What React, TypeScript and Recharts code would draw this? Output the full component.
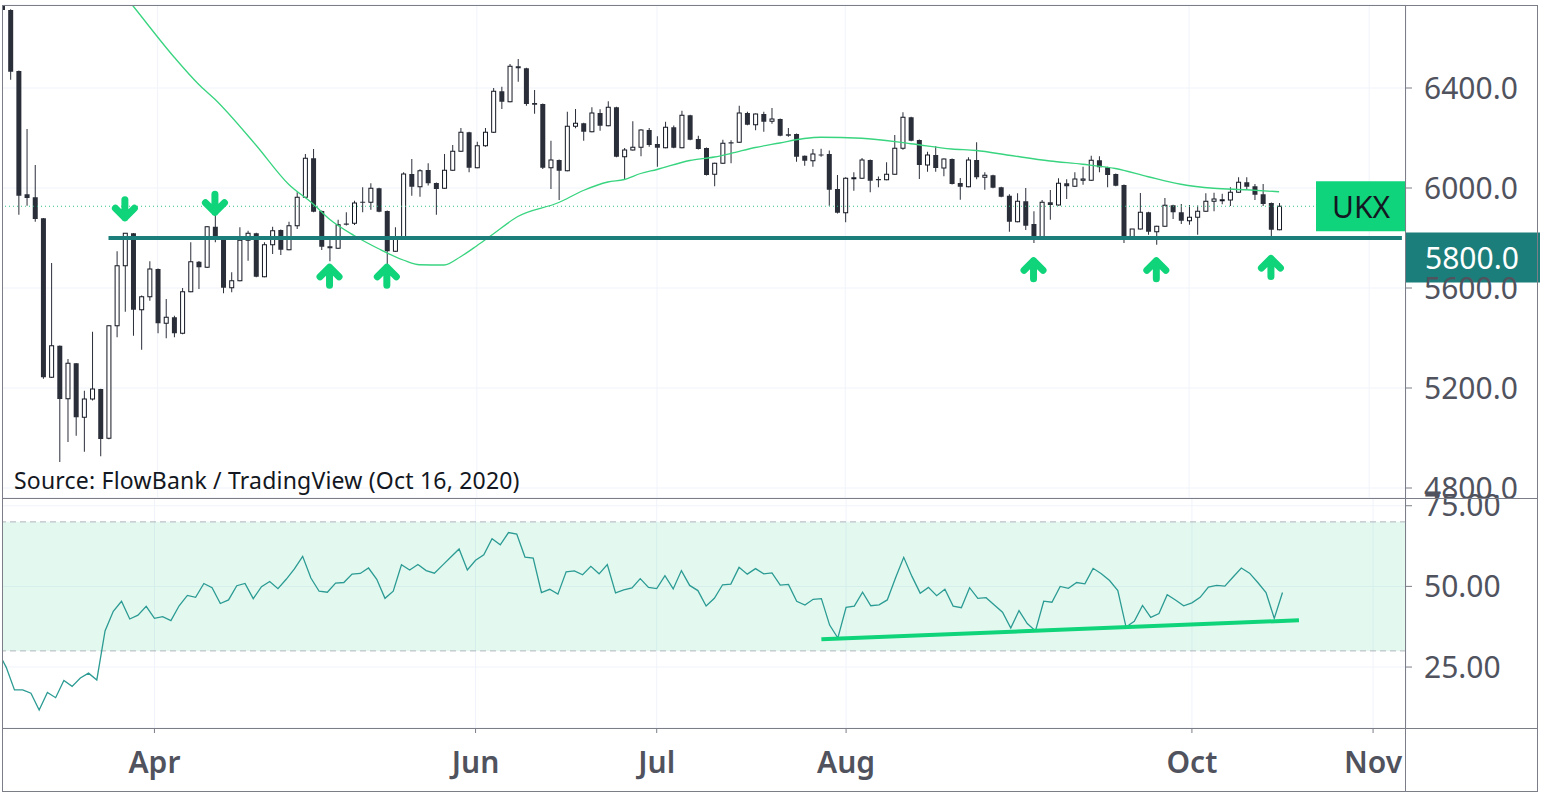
import React from 'react';
import {
  ComposedChart,
  Bar,
  Line,
  XAxis,
  YAxis,
  CartesianGrid,
  ReferenceLine,
  ReferenceArea,
  ReferenceDot,
} from 'recharts';

// ---------- trading days (categories) ----------
const marDays = [5, 6, 9, 10, 11, 12, 13, 16, 17, 18, 19, 20, 23, 24, 25, 26, 27, 30, 31];
const aprDays = [1, 2, 3, 6, 7, 8, 9, 14, 15, 16, 17, 20, 21, 22, 23, 24, 27, 28, 29, 30];
const mayDays = [1, 4, 5, 6, 7, 11, 12, 13, 14, 15, 18, 19, 20, 21, 22, 26, 27, 28, 29];
const junDays = [1, 2, 3, 4, 5, 8, 9, 10, 11, 12, 15, 16, 17, 18, 19, 22, 23, 24, 25, 26, 29, 30];
const julDays = [1, 2, 3, 6, 7, 8, 9, 10, 13, 14, 15, 16, 17, 20, 21, 22, 23, 24, 27, 28, 29, 30, 31];
const augDays = [3, 4, 5, 6, 7, 10, 11, 12, 13, 14, 17, 18, 19, 20, 21, 24, 25, 26, 27, 28];
const sepDays = [1, 2, 3, 4, 7, 8, 9, 10, 11, 14, 15, 16, 17, 18, 21, 22, 23, 24, 25, 28, 29, 30];
const octDays = [1, 2, 5, 6, 7, 8, 9, 12, 13, 14, 15, 16, 19, 20, 21, 22, 23, 26, 27, 28, 29, 30];
const novDays = [2, 3, 4, 5, 6];

const monthDays: [number, number[]][] = [
  [3, marDays], [4, aprDays], [5, mayDays], [6, junDays], [7, julDays],
  [8, augDays], [9, sepDays], [10, octDays], [11, novDays],
];
const pad = (n: number) => (n < 10 ? '0' + n : '' + n);
const dates: string[] = monthDays.flatMap(([m, ds]) => ds.map((d) => `2020-${pad(m)}-${pad(d)}`));

// ---------- UKX daily candles (Mar 5 - Oct 16, 2020) ----------
const opens = [
  6815, 6712, 6468, 5975, 5963, 5879, 5243, 5369, 5157, 5299, 5083, 5156, 5196, 4999, 5449, 5689, 5819, 5513, 5565,
  5676, 5459, 5483, 5419, 5585, 5705, 5683, 5845, 5796, 5601, 5629, 5791, 5819, 5645, 5773, 5832, 5753, 5849, 5963, 6119,
  5908, 5767, 5759, 5858, 5859, 5945, 5943, 5999, 5908, 5747, 5803, 6056, 6005, 6072, 6020, 5999, 6071, 6147, 6223,
  6081, 6169, 6223, 6387, 6345, 6487, 6479, 6340, 6336, 6081, 6112, 6069, 6247, 6259, 6225, 6300, 6249, 6323, 6125, 6152, 6163, 6232,
  6176, 6161, 6243, 6161, 6291, 6196, 6160, 6055, 6099, 6183, 6183, 6300, 6253, 6296, 6267, 6276, 6215, 6216, 6129, 6109, 6134, 6136, 5996,
  5901, 6039, 6039, 6112, 6036, 6033, 6055, 6159, 6283, 6192, 6092, 6132, 6080, 6116, 6020, 6005, 6112, 6043, 6051, 6003,
  5969, 5865, 5947, 5856, 5800, 5943, 5932, 6019, 6007, 6031, 6031, 6111, 6083, 6056, 6012, 5805, 5836, 5903, 5825, 5847, 5931, 5903,
  5869, 5883, 5907, 5947, 5951, 5952, 5983, 6023, 6007, 5975, 5940, 5833,
];
const highs = [
  6830, 6715, 6470, 6236, 6092, 5880, 5700, 5370, 5316, 5300, 5189, 5425, 5197, 5450, 5747, 5820, 5820, 5570, 5707,
  5678, 5556, 5489, 5600, 5783, 5708, 5847, 5900, 5798, 5663, 5843, 5829, 5821, 5783, 5845, 5834, 5865, 5983, 6136, 6156,
  5910, 5799, 5873, 5903, 5949, 6003, 6019, 6001, 5910, 5843, 6063, 6116, 6075, 6099, 6022, 6136, 6172, 6240, 6225,
  6185, 6240, 6400, 6405, 6496, 6516, 6481, 6392, 6338, 6189, 6114, 6305, 6316, 6261, 6323, 6315, 6347, 6325, 6160, 6267, 6235, 6240,
  6207, 6265, 6250, 6309, 6293, 6209, 6162, 6101, 6193, 6191, 6329, 6305, 6298, 6305, 6320, 6278, 6240, 6218, 6130, 6156, 6157, 6150, 6052,
  6043, 6063, 6120, 6114, 6046, 6103, 6212, 6303, 6285, 6194, 6145, 6167, 6118, 6118, 6040, 6123, 6183, 6063, 6053, 6005,
  5975, 5979, 6000, 5907, 5952, 5992, 6039, 6035, 6063, 6085, 6129, 6127, 6085, 6058, 6014, 5836, 5980, 5905, 5849, 5960, 5933, 5936,
  5932, 5930, 5979, 5981, 5977, 6003, 6043, 6043, 6016, 6016, 5942, 5940,
];
const lows = [
  6700, 6433, 5893, 5929, 5865, 5237, 5240, 4904, 4984, 5009, 4945, 5150, 4927, 4995, 5403, 5505, 5409, 5353, 5549,
  5419, 5399, 5403, 5415, 5583, 5596, 5680, 5783, 5579, 5583, 5627, 5709, 5643, 5643, 5736, 5732, 5751, 5836, 5960, 5903,
  5752, 5707, 5757, 5850, 5852, 5903, 5913, 5903, 5665, 5745, 5800, 5969, 5965, 6010, 5893, 5997, 6069, 6145, 6063,
  6079, 6165, 6220, 6316, 6343, 6425, 6329, 6297, 6076, 5996, 5952, 6067, 6239, 6189, 6223, 6229, 6247, 6123, 6036, 6150, 6127, 6165,
  6085, 6159, 6159, 6159, 6191, 6154, 6050, 6007, 6097, 6099, 6181, 6251, 6231, 6225, 6257, 6207, 6205, 6105, 6089, 6085, 6125, 5929, 5898,
  5863, 5989, 6037, 5983, 6003, 6031, 6053, 6153, 6187, 6036, 6065, 6065, 6047, 6014, 5953, 6003, 6035, 5993, 5999, 5963,
  5825, 5863, 5832, 5780, 5798, 5873, 5930, 5956, 6005, 6013, 6029, 6063, 6003, 6007, 5780, 5793, 5834, 5813, 5773, 5845, 5876, 5856,
  5853, 5813, 5905, 5907, 5935, 5928, 5981, 5996, 5952, 5928, 5793, 5831,
];
const closes = [
  6712, 6465, 5969, 5960, 5876, 5243, 5369, 5156, 5299, 5083, 5156, 5196, 4996, 5449, 5689, 5819, 5513, 5565, 5676,
  5459, 5483, 5419, 5585, 5705, 5683, 5845, 5793, 5601, 5629, 5791, 5819, 5645, 5773, 5829, 5753, 5849, 5963, 6119, 5905,
  5765, 5759, 5853, 5853, 5940, 5941, 5999, 5905, 5747, 5803, 6056, 6005, 6069, 6019, 5996, 6071, 6147, 6223, 6081,
  6169, 6223, 6387, 6345, 6487, 6479, 6336, 6333, 6081, 6112, 6069, 6247, 6259, 6225, 6300, 6249, 6323, 6125, 6152, 6163, 6232, 6172,
  6161, 6243, 6161, 6291, 6193, 6156, 6052, 6099, 6179, 6178, 6300, 6253, 6296, 6265, 6276, 6209, 6209, 6125, 6109, 6136, 6132, 5993, 5901,
  6039, 6041, 6112, 6029, 6031, 6055, 6159, 6283, 6189, 6092, 6132, 6080, 6116, 6016, 6005, 6112, 6043, 6051, 6001, 5965,
  5865, 5947, 5849, 5800, 5943, 5932, 6019, 6007, 6036, 6036, 6111, 6083, 6052, 6009, 5805, 5836, 5903, 5825, 5847, 5931, 5903, 5869,
  5883, 5907, 5947, 5956, 5953, 5983, 6023, 6005, 5973, 5936, 5833, 5927,
];

// ---------- RSI(14) ----------
const rsiValues = [
  29.8, 24.9, 17.9, 17.9, 16.9, 11.7, 17.1, 15.5, 20.8, 19.0, 21.6, 23.1, 21.0, 36.2, 42.3, 45.4, 39.9, 41.1, 43.8,
  40.1, 40.6, 39.4, 44.0, 47.2, 46.6, 50.9, 49.6, 44.7, 45.8, 50.2, 50.9, 46.2, 49.9, 51.5, 49.3, 52.2, 55.4, 59.3, 52.6,
  48.5, 48.2, 51.0, 51.2, 53.8, 54.0, 55.7, 52.2, 46.3, 48.5, 56.7, 55.1, 56.8, 54.9, 54.1, 56.6, 59.1, 61.6, 55.1,
  58.1, 59.8, 64.8, 62.9, 66.7, 66.2, 59.1, 58.8, 48.1, 49.1, 47.6, 54.5, 54.8, 53.6, 56.2, 53.9, 56.8, 48.0, 48.9, 49.5, 52.4, 49.7,
  49.3, 53.3, 49.2, 54.9, 50.3, 48.7, 43.9, 46.3, 50.5, 50.7, 55.9, 53.8, 55.5, 53.9, 54.2, 50.4, 50.6, 45.4, 44.2, 46.0, 46.2, 38.0, 34.0,
  43.5, 43.9, 48.2, 44.0, 44.3, 45.8, 52.6, 59.0, 53.1, 47.9, 49.7, 47.1, 49.1, 43.9, 43.4, 49.6, 46.3, 46.5, 44.2, 42.0,
  37.1, 42.5, 38.5, 36.2, 45.4, 45.1, 50.0, 49.4, 51.2, 50.8, 55.6, 53.9, 51.8, 48.7, 37.4, 39.2, 44.1, 40.4, 41.6, 47.4, 45.8, 44.0,
  44.9, 46.6, 49.8, 50.3, 50.1, 52.9, 55.7, 54.1, 51.2, 48.1, 40.1, 48.1,
];

// ---------- moving average ----------
const maDates = [
  '2020-03-24', '2020-03-27', '2020-04-03', '2020-04-08', '2020-04-14', '2020-04-21', '2020-04-27', '2020-04-30',
  '2020-05-04', '2020-05-07', '2020-05-13', '2020-05-18', '2020-05-20', '2020-05-26', '2020-05-28', '2020-06-01',
  '2020-06-03', '2020-06-08', '2020-06-15', '2020-06-18', '2020-06-23', '2020-06-25', '2020-06-29', '2020-07-01',
  '2020-07-07', '2020-07-10', '2020-07-14', '2020-07-17', '2020-07-22', '2020-07-27', '2020-07-29', '2020-08-05',
  '2020-08-13', '2020-08-20', '2020-08-25', '2020-09-01', '2020-09-08', '2020-09-14', '2020-09-18', '2020-09-24',
  '2020-09-30', '2020-10-06', '2020-10-12', '2020-10-16',
];
const maValues = [
  6850, 6728, 6524, 6415, 6355, 6172, 6015, 5936,
  5875, 5810, 5757, 5712, 5693, 5692, 5725, 5769,
  5816, 5886, 5942, 5990, 6024, 6034, 6058, 6074,
  6110, 6124, 6138, 6162, 6180, 6198, 6203, 6199,
  6177, 6156, 6150, 6131, 6108, 6095, 6078, 6045,
  6015, 5999, 5993, 5985,
];

// ---------- annotations ----------
const supportLevel = 5800;
const supportStart = '2020-03-24';
const rsiTrendDates = ['2020-07-29', '2020-10-20'];
const rsiTrendValues = [33.6, 39.5];
const arrowDates = ['2020-03-26', '2020-04-14', '2020-05-04', '2020-05-14', '2020-09-04', '2020-09-25', '2020-10-15'];
const arrowPrices = [5917, 5939, 5647, 5647, 5673, 5673, 5682];
const arrowDirs = ['down', 'down', 'up', 'up', 'up', 'up', 'up'];

const priceTicks = [4800, 5200, 5600, 6000, 6400];
const rsiTicks = [25, 50, 75];
const monthTicks = ['2020-04-01', '2020-06-01', '2020-07-01', '2020-08-03', '2020-10-01', '2020-11-02'];
const monthNames = ['Jan', 'Feb', 'Mar', 'Apr', 'May', 'Jun', 'Jul', 'Aug', 'Sep', 'Oct', 'Nov', 'Dec'];

// ---------- table for the library ----------
const rows = dates.map((date, i) => {
  const has = i < closes.length;
  const mi = maDates.indexOf(date);
  const ti = rsiTrendDates.indexOf(date);
  return {
    date,
    range: has ? [lows[i], highs[i]] : null,
    open: has ? opens[i] : null,
    high: has ? highs[i] : null,
    low: has ? lows[i] : null,
    close: has ? closes[i] : null,
    rsi: has ? rsiValues[i] : null,
    ma: mi >= 0 ? maValues[mi] : null,
    rsiTrend: ti >= 0 ? rsiTrendValues[ti] : null,
  };
});
const lastClose = closes[closes.length - 1];

// ---------- styling ----------
const FONT = '"Noto Sans", "Open Sans", sans-serif';
const TEXT = '#50535e';
const GRID = '#f0f3fa';
const FRAME = '#7b7e87';
const DARK = '#2a2e39';
const GREEN = '#0fd47a';
const TEAL = '#1b7e7a';
const CHART_W = 1560;
const MARGIN_L = 18;
const AXIS_W = 134;

const Candle = (props: any) => {
  const { x, y, width, height, payload } = props;
  if (!payload || payload.open == null || !isFinite(y) || !isFinite(height)) return <g />;
  const { open, close, high, low } = payload;
  const top = Math.min(y, y + height);
  const bot = Math.max(y, y + height);
  const span = high - low || 1;
  const pix = (v: number) => top + ((high - v) / span) * (bot - top);
  const cx = x + width / 2;
  const yo = pix(open);
  const yc = pix(close);
  const bTop = Math.min(yo, yc);
  const bh = Math.max(Math.abs(yo - yc), 1);
  const up = close >= open;
  return (
    <g>
      <line x1={cx} x2={cx} y1={top} y2={bot} stroke={DARK} strokeWidth={1} />
      {up ? (
        <rect x={x + 0.5} y={bTop} width={width - 1} height={bh} fill="#ffffff" stroke="#131722" strokeWidth={1} />
      ) : (
        <rect x={x} y={bTop} width={width} height={bh} fill={DARK} />
      )}
    </g>
  );
};

const Arrow = ({ cx, cy, dir }: { cx: number; cy: number; dir: string }) => {
  const s = dir === 'down' ? 1 : -1;
  const d = `M ${cx} ${cy - 9 * s} L ${cx} ${cy + 9 * s} M ${cx - 9.5} ${cy - 0.5 * s} L ${cx} ${cy + 9 * s} L ${cx + 9.5} ${cy - 0.5 * s}`;
  return <path d={d} stroke={GREEN} strokeWidth={7} strokeLinecap="round" strokeLinejoin="round" fill="none" />;
};

const UkxTag = (props: any) => {
  const vb = props.viewBox || {};
  const right = vb.x + vb.width;
  const cy = vb.y;
  return (
    <g>
      <rect x={right - 90} y={cy - 25} width={90} height={50} fill="#10d47c" />
      <text x={right - 45} y={cy} textAnchor="middle" dominantBaseline="central" fontSize={30} fontFamily={FONT} fill="#131722">
        UKX
      </text>
    </g>
  );
};

const SupportTag = (props: any) => {
  const vb = props.viewBox || {};
  const right = vb.x + vb.width;
  const cy = vb.y;
  return (
    <g>
      <rect x={right} y={cy - 5.5} width={AXIS_W} height={50} fill={TEAL} />
      <text x={right + 19} y={cy + 19.5} dominantBaseline="central" fontSize={30} fontFamily={FONT} fill="#ffffff">
        {supportLevel.toFixed(1)}
      </text>
    </g>
  );
};

const fmtMonth = (d: string) => monthNames[parseInt(d.slice(5, 7), 10) - 1];

const hLine = (left: number, top: number, width: number) => (
  <div style={{ position: 'absolute', left, top, width, height: 1, background: FRAME }} />
);
const vLine = (left: number, top: number, height: number) => (
  <div style={{ position: 'absolute', left, top, width: 1, height, background: FRAME }} />
);

export default function App() {
  return (
    <div
      style={{
        position: 'absolute',
        left: 0,
        top: 0,
        width: 1545,
        height: 798,
        overflow: 'hidden',
        background: '#ffffff',
        fontFamily: FONT,
      }}
    >
      <div style={{ position: 'absolute', left: 3, top: 0, width: 1542, height: 798, overflow: 'hidden' }}>
        {/* price pane */}
        <div style={{ position: 'absolute', left: -23, top: 0 }}>
          <ComposedChart width={CHART_W} height={520} data={rows} margin={{ top: 5, right: 0, bottom: 22, left: MARGIN_L }}>
            <CartesianGrid stroke={GRID} />
            <XAxis dataKey="date" hide ticks={monthTicks} interval={0} />
            <YAxis
              orientation="right"
              domain={[4760, 6732]}
              allowDataOverflow
              ticks={priceTicks}
              interval={0}
              width={AXIS_W}
              tickSize={6}
              tickMargin={12}
              axisLine={false}
              tickLine={{ stroke: FRAME }}
              tick={{ fill: TEXT, fontSize: 30, fontFamily: FONT }}
              tickFormatter={(v: number) => v.toFixed(1)}
            />
            <Line
              dataKey="ma"
              type="monotone"
              stroke="#38d47f"
              strokeWidth={1.3}
              dot={false}
              activeDot={false}
              connectNulls
              isAnimationActive={false}
            />
            <ReferenceLine
              segment={[
                { x: supportStart, y: supportLevel },
                { x: dates[dates.length - 1], y: supportLevel },
              ]}
              stroke={TEAL}
              strokeWidth={4}
            />
            <Bar dataKey="range" shape={Candle} barSize={5} isAnimationActive={false} />
            <ReferenceLine y={lastClose} stroke="#2ec483" strokeDasharray="1 3" label={(p: any) => <UkxTag {...p} />} />
            <ReferenceLine y={supportLevel} stroke="none" strokeOpacity={0} label={(p: any) => <SupportTag {...p} />} />
            {arrowDates.map((d, i) => (
              <ReferenceDot
                key={d}
                x={d}
                y={arrowPrices[i]}
                r={1}
                shape={(p: any) => <Arrow cx={p.cx} cy={p.cy} dir={arrowDirs[i]} />}
              />
            ))}
          </ComposedChart>
        </div>

        {/* RSI pane + time axis */}
        <div style={{ position: 'absolute', left: -23, top: 478 }}>
          <ComposedChart width={CHART_W} height={314} data={rows} margin={{ top: 20, right: 0, bottom: 0, left: MARGIN_L }}>
            <CartesianGrid stroke={GRID} />
            <ReferenceArea y1={30} y2={70} fill="#00c875" fillOpacity={0.11} stroke="none" />
            <ReferenceLine y={70} stroke="#b2b5be" strokeDasharray="6 4" />
            <ReferenceLine y={30} stroke="#b2b5be" strokeDasharray="6 4" />
            <XAxis
              dataKey="date"
              ticks={monthTicks}
              interval={0}
              height={64}
              tickSize={5}
              tickMargin={19}
              axisLine={false}
              tickLine={{ stroke: FRAME }}
              tick={{ fill: TEXT, fontSize: 30, fontWeight: 600, fontFamily: FONT }}
              tickFormatter={fmtMonth}
            />
            <YAxis
              orientation="right"
              domain={[6.1, 77.4]}
              allowDataOverflow
              ticks={rsiTicks}
              interval={0}
              width={AXIS_W}
              tickSize={6}
              tickMargin={12}
              axisLine={false}
              tickLine={{ stroke: FRAME }}
              tick={{ fill: TEXT, fontSize: 30, fontFamily: FONT }}
              tickFormatter={(v: number) => v.toFixed(2)}
            />
            <Line dataKey="rsi" type="linear" stroke="#2b9b93" strokeWidth={1.3} dot={false} activeDot={false} isAnimationActive={false} />
            <Line
              dataKey="rsiTrend"
              type="linear"
              stroke={GREEN}
              strokeWidth={4}
              dot={false}
              activeDot={false}
              connectNulls
              isAnimationActive={false}
            />
          </ComposedChart>
        </div>
      </div>

      <div
        style={{
          position: 'absolute',
          left: 14,
          top: 469,
          fontSize: 23,
          letterSpacing: '0.2px',
          lineHeight: '22px',
          color: '#131722',
          whiteSpace: 'nowrap',
          fontFamily: FONT,
        }}
      >
        Source: FlowBank / TradingView (Oct 16, 2020)
      </div>

      {hLine(2, 5, 1536)}
      {hLine(2, 791, 1536)}
      {hLine(2, 498, 1536)}
      {hLine(2, 728, 1536)}
      {vLine(2, 5, 787)}
      {vLine(1537, 5, 787)}
      {vLine(1405, 5, 787)}
    </div>
  );
}
